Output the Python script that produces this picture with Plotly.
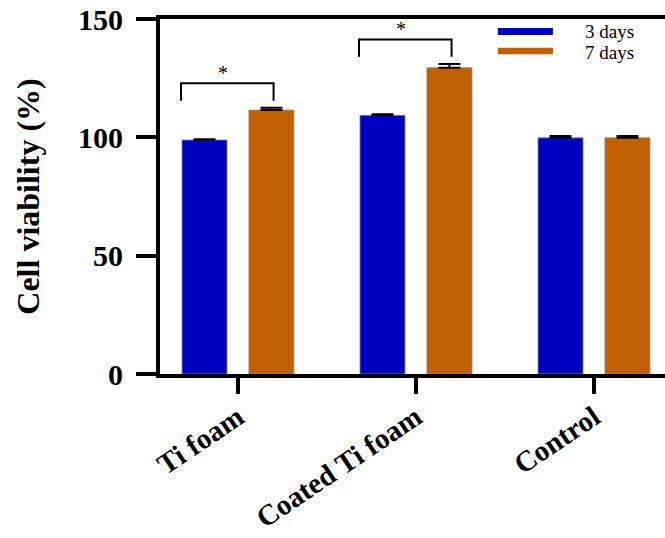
import plotly.graph_objects as go

categories = ["Ti foam", "Coated Ti foam", "Control"]
series_names = ["3 days", "7 days"]
values_3d = [98.9, 109.3, 99.8]
values_7d = [111.5, 129.4, 99.8]
err_3d = [0.3, 0.5, 0.8]
err_7d = [1.0, 1.6, 0.8]
y_ticks = [0, 50, 100, 150]
sig_groups = ["Ti foam", "Coated Ti foam"]
sig_label = "*"

colors = ["rgb(0,0,192)", "rgb(192,96,0)"]
FONT = "Liberation Serif"

fig = go.Figure()
for name, vals, errs, col in zip(series_names, [values_3d, values_7d], [err_3d, err_7d], colors):
    fig.add_trace(go.Bar(
        x=categories, y=vals, name=name,
        marker=dict(color=col, line=dict(color="rgba(140,140,140,0.8)", width=1)),
        error_y=dict(type="data", symmetric=False, array=errs,
                     arrayminus=[0] * len(errs), color="black",
                     thickness=2, width=11),
        showlegend=False,
    ))

# significance brackets, derived from data
for g in sig_groups:
    i = categories.index(g)
    top = max(values_7d[i] + err_7d[i], values_3d[i] + err_3d[i]) + 10.3
    x_left = i - 0.32
    x_right = i + 0.2
    fig.add_shape(type="path",
                  path=f"M {x_left},{top-7.3} L {x_left},{top} L {x_right},{top} L {x_right},{top-7.3}",
                  xref="x", yref="y", line=dict(color="black", width=2))
    fig.add_annotation(x=i - 0.085, y=top - 1.2, text=sig_label, showarrow=False,
                       xref="x", yref="y", yanchor="bottom",
                       font=dict(family=FONT, size=20, color="black"))

# manual legend
leg = [(0.955, 0.975, 0.965), (0.9006, 0.919, 0.906)]
for (y0, y1, yt), name, col in zip(leg, series_names, colors):
    fig.add_shape(type="rect", xref="paper", yref="paper", x0=0.669, x1=0.778,
                  y0=y0, y1=y1, fillcolor=col, line=dict(width=0))
    fig.add_annotation(xref="paper", yref="paper", x=0.838, y=yt, text=name,
                       showarrow=False, xanchor="left", yanchor="middle",
                       font=dict(family=FONT, size=19, color="black"))

fig.update_layout(
    width=665, height=538,
    margin=dict(l=160, r=0, t=19, b=164, autoexpand=False),
    paper_bgcolor="white", plot_bgcolor="white",
    barmode="group", bargap=0.248, bargroupgap=0.327,
    font=dict(family=FONT, color="black"),
    xaxis=dict(
        type="category", range=[-0.438, 2.399], automargin=False,
        showline=True, linecolor="black", linewidth=4, mirror=True,
        ticks="outside", ticklen=16, tickwidth=4, tickcolor="black",
        tickangle=-34, ticklabelstandoff=-5,
        tickfont=dict(family=FONT, size=29, color="black", weight="bold"),
        showgrid=False, zeroline=False,
    ),
    yaxis=dict(
        range=[0, 150], tickvals=y_ticks, automargin=False,
        showline=True, linecolor="black", linewidth=4,
        ticks="outside", ticklen=20, tickwidth=4, tickcolor="black",
        ticklabelstandoff=7,
        tickfont=dict(family=FONT, size=30, color="black", weight="bold"),
        title=dict(text="Cell viability (%)", standoff=30,
                   font=dict(family=FONT, size=32, color="black", weight="bold")),
        showgrid=False, zeroline=False,
    ),
)

fig.write_html("out.html", config={"displayModeBar": False},
               post_script="document.body.style.margin='0';document.body.style.overflow='hidden';")
